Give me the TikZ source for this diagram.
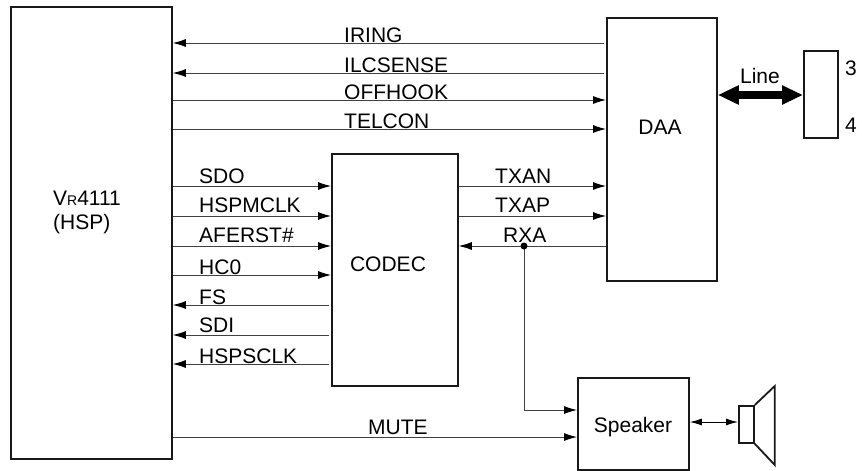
\documentclass[tikz,border=0pt]{standalone}
\usepackage{fontspec}
\setmainfont{Liberation Sans}
\usepackage{xcolor}
\usetikzlibrary{arrows.meta,positioning,calc}

\begin{document}
\begin{tikzpicture}[
    x=1pt, y=-1pt,
    every node/.style={font=\fontsize{21}{24}\selectfont},
    block/.style={rectangle, draw=black!90, line width=1.8pt, inner sep=0pt, anchor=north west},
    sig/.style={inner sep=0pt, anchor=base west},
    line/.style={draw, line width=0.9pt, color=black!75, -{Latex[length=13pt,width=8pt,color=black]}},
    bigline/.style={draw, line width=8pt, {Triangle[length=21pt,width=18pt]}-{Triangle[length=21pt,width=18pt]}},
    smallline/.style={draw, line width=0.9pt, {Latex[length=12pt,width=7pt]}-{Latex[length=12pt,width=7pt]}}
]
\useasboundingbox (0,0) rectangle (862,471);

% Nodes
\node [block, minimum width=161pt, minimum height=452pt] (vr) at (10,6) {};
\node [block, minimum width=126pt, minimum height=232pt] (codec) at (331,153) {};
\node [block, minimum width=110pt, minimum height=263pt] (daa) at (606,17) {};
\node [block, minimum width=34pt, minimum height=87pt] (jack) at (803,50) {};
\node [block, minimum width=111pt, minimum height=92pt] (speaker) at (577,377) {};
\node [block, minimum width=15pt, minimum height=37pt] (coil) at (738,405) {};

\node [sig] (vrlabel) at (53,205) {V{\fontsize{14}{16}\selectfont R}4111};
\node [sig] (hsplabel) at (53,229) {(HSP)};
\node [inner sep=0pt] (codeclabel) at (388,264) {CODEC};
\node [inner sep=0pt] (daalabel) at (660,127) {DAA};
\node [inner sep=0pt] (speakerlabel) at (633,427) {Speaker};
\node [inner sep=0pt] (pin3) at (851,68) {3};
\node [inner sep=0pt] (pin4) at (851,125) {4};
\node [inner sep=0pt] (linelabel) at (760,76) {Line};

% Signal rows
\coordinate (iring) at (0,43);
\coordinate (ilcsense) at (0,73);
\coordinate (offhook) at (0,100);
\coordinate (telcon) at (0,129);
\coordinate (sdo) at (0,186);
\coordinate (hspmclk) at (0,216);
\coordinate (aferst) at (0,246);
\coordinate (hc0) at (0,275);
\coordinate (fs) at (0,305);
\coordinate (sdi) at (0,335);
\coordinate (hspsclk) at (0,364);
\coordinate (mute) at (0,437);
\coordinate (rxain) at (0,410);
\coordinate (rxadot) at (524,246);

% Labels
\node [sig] (iringlabel) at (344,42) {IRING};
\node [sig] (ilcsenselabel) at (344,72) {ILCSENSE};
\node [sig] (offhooklabel) at (344,99) {OFFHOOK};
\node [sig] (telconlabel) at (344,128) {TELCON};
\node [sig] (sdolabel) at (199,183) {SDO};
\node [sig] (hspmclklabel) at (199,212) {HSPMCLK};
\node [sig] (aferstlabel) at (199,242) {AFERST\#};
\node [sig] (hc0label) at (199,274) {HC0};
\node [sig] (fslabel) at (199,304) {FS};
\node [sig] (sdilabel) at (199,332) {SDI};
\node [sig] (hspsclklabel) at (199,363) {HSPSCLK};
\node [sig] (txanlabel) at (495,183) {TXAN};
\node [sig] (txaplabel) at (495,212) {TXAP};
\node [sig] (rxalabel) at (503,242) {RXA};
\node [sig] (mutelabel) at (368,434) {MUTE};

% Connectors
\path [line, shorten <=2pt] (daa.west |- iring) -- (vr.east |- iring);
\path [line, shorten <=2pt] (daa.west |- ilcsense) -- (vr.east |- ilcsense);
\path [line] (vr.east |- offhook) -- (daa.west |- offhook);
\path [line] (vr.east |- telcon) -- (daa.west |- telcon);
\path [line] (vr.east |- sdo) -- (codec.west |- sdo);
\path [line] (vr.east |- hspmclk) -- (codec.west |- hspmclk);
\path [line] (vr.east |- aferst) -- (codec.west |- aferst);
\path [line] (vr.east |- hc0) -- (codec.west |- hc0);
\path [line, shorten <=2pt] (codec.west |- fs) -- (vr.east |- fs);
\path [line, shorten <=2pt] (codec.west |- sdi) -- (vr.east |- sdi);
\path [line, shorten <=2pt] (codec.west |- hspsclk) -- (vr.east |- hspsclk);
\path [line] (codec.east |- sdo) -- (daa.west |- sdo);
\path [line] (codec.east |- hspmclk) -- (daa.west |- hspmclk);
\path [line] (daa.west |- aferst) -- (codec.east |- aferst);
\path [line] (rxadot) |- (speaker.west |- rxain);
\path [line] (vr.east |- mute) -- (speaker.west |- mute);
\fill (rxadot) circle (3.5pt);
\path [bigline] (daa.east |- 0,95) -- (jack.west |- 0,95);
\path [smallline] (speaker.east |- 0,422) -- (coil.west |- 0,422);

% Speaker cone
\draw [line width=1.8pt, color=black!90] (coil.north east) -- ++(20,-19) -- ++(0,79) -- (coil.south east);

\end{tikzpicture}
\end{document}
